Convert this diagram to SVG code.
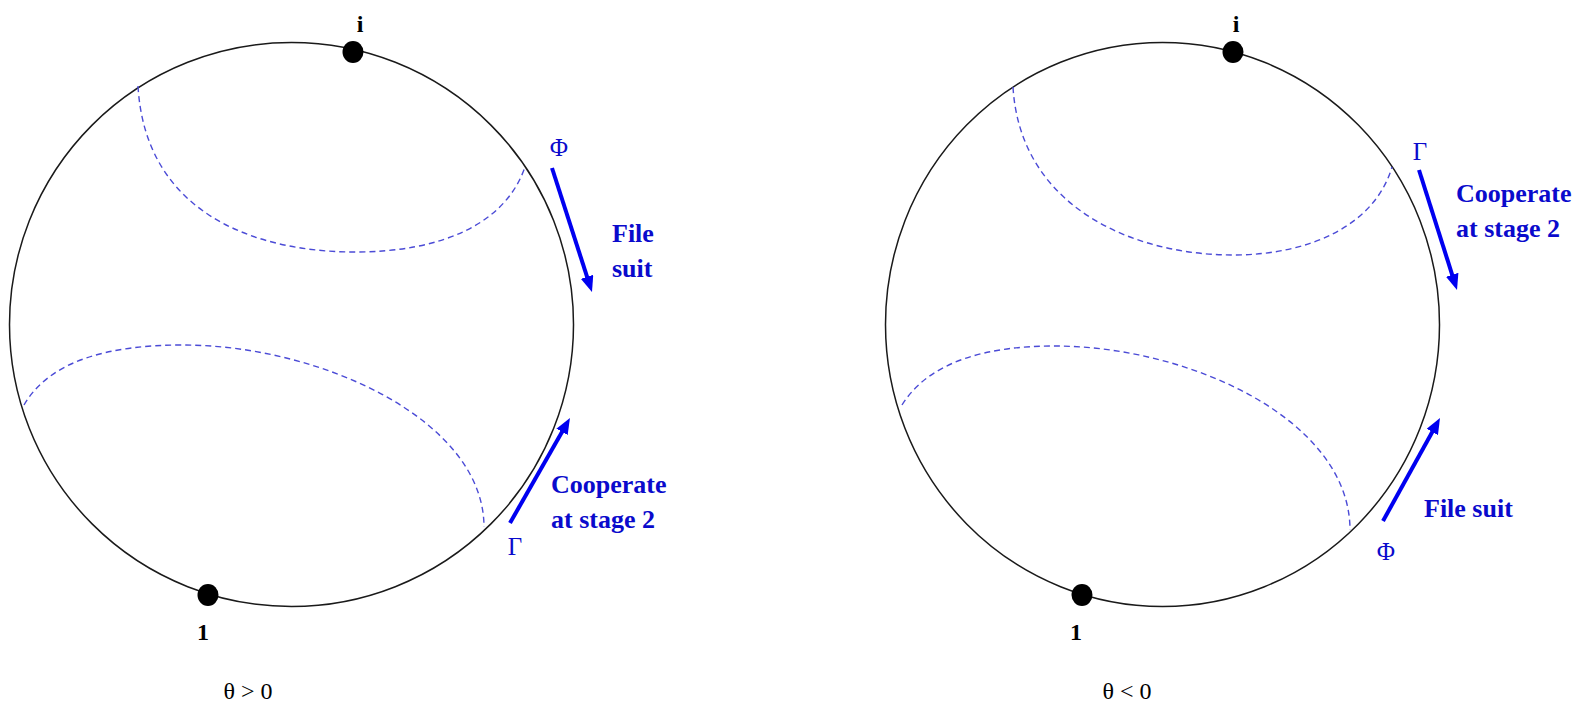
<svg xmlns="http://www.w3.org/2000/svg" width="1585" height="704" viewBox="0 0 1585 704">
<style>
.circ{fill:none;stroke:#1a1a1a;stroke-width:1.5}
.dash{fill:none;stroke:#4b4bd6;stroke-width:1.4;stroke-dasharray:6 4}
.dot{fill:#000}
.arr{stroke:#0000f0;stroke-width:4;fill:none;marker-end:url(#ah)}
.pt{font-family:"Liberation Serif",serif;font-weight:bold;font-size:24px;fill:#000;text-anchor:middle}
.lbl{font-family:"Liberation Serif",serif;font-weight:bold;font-size:26px;fill:#0a0acc}
.gr{font-family:"Liberation Serif",serif;font-size:25px;fill:#0a0acc;text-anchor:middle}
.th{font-family:"Liberation Serif",serif;font-size:24px;fill:#000;text-anchor:middle}
</style>
<defs>
<marker id="ah" markerUnits="userSpaceOnUse" viewBox="0 0 16 13" markerWidth="16" markerHeight="13" refX="4" refY="6.5" orient="auto">
<path d="M0,0 L16,6.5 L0,13 z" fill="#0000f0"/>
</marker>
</defs>
<g id="left-panel">
<circle class="circ" cx="291.5" cy="324.5" r="282"/>
<path class="dash" d="M138,86 C145,210 250,252 355,252 C440,252 505,225 525,167"/>
<path class="dash" d="M24,405 C50,360 110,345 183,345 C320,345 484,420 484,527"/>
</g>
<g id="right-panel">
<ellipse class="circ" cx="1162.5" cy="324.5" rx="277" ry="282"/>
<path class="dash" d="M1013,87 C1020,205 1130,255 1233,255 C1310,255 1375,225 1392,167"/>
<path class="dash" d="M902,405 C930,360 990,346 1054,346 C1190,346 1350,420 1350,530"/>
</g>
<g id="node-i-left"><ellipse class="dot" cx="353" cy="52" rx="10.5" ry="11"/><text class="pt" x="360" y="32">i</text></g>
<g id="node-1-left"><ellipse class="dot" cx="208" cy="595" rx="10.5" ry="11"/><text class="pt" x="203" y="640">1</text></g>
<g id="node-i-right"><ellipse class="dot" cx="1233" cy="52" rx="10.5" ry="11"/><text class="pt" x="1236" y="32">i</text></g>
<g id="node-1-right"><ellipse class="dot" cx="1082" cy="595" rx="10.5" ry="11"/><text class="pt" x="1076" y="640">1</text></g>
<g id="connectors">
<line class="arr" x1="552" y1="168" x2="588.3" y2="280.6"/>
<line class="arr" x1="510" y1="523" x2="564" y2="428.4"/>
<line class="arr" x1="1419" y1="170" x2="1453.4" y2="278.6"/>
<line class="arr" x1="1383" y1="521" x2="1434.2" y2="428.5"/>
</g>
<g id="labels-left">
<text class="gr" x="559" y="156">Φ</text>
<text class="lbl" x="612" y="242">File</text>
<text class="lbl" x="612" y="277">suit</text>
<text class="gr" x="515" y="555">Γ</text>
<text class="lbl" x="551" y="493">Cooperate</text>
<text class="lbl" x="551" y="528">at stage 2</text>
<text class="th" x="248" y="699">θ &gt; 0</text>
</g>
<g id="labels-right">
<text class="gr" x="1420" y="160">Γ</text>
<text class="lbl" x="1456" y="202">Cooperate</text>
<text class="lbl" x="1456" y="237">at stage 2</text>
<text class="gr" x="1386" y="560">Φ</text>
<text class="lbl" x="1424" y="517">File suit</text>
<text class="th" x="1127" y="699">θ &lt; 0</text>
</g>
</svg>
